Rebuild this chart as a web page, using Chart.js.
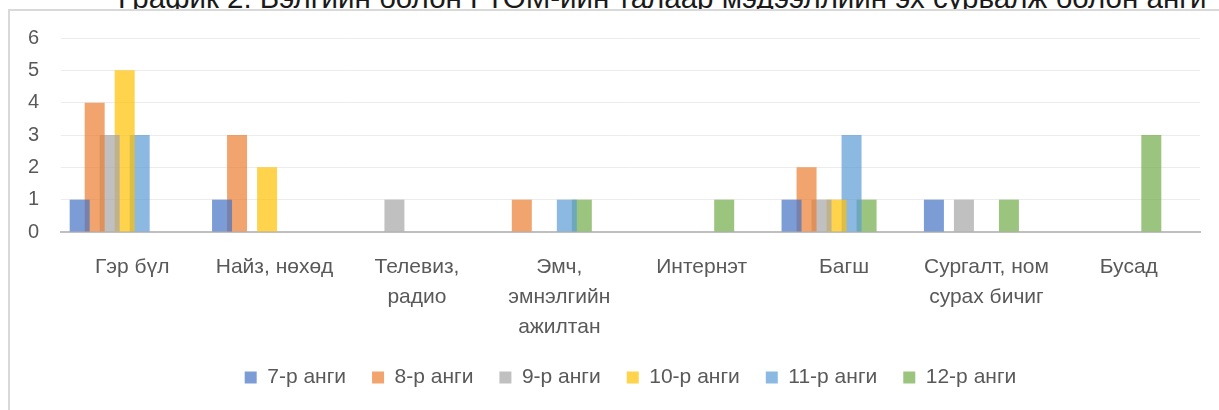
<!DOCTYPE html>
<html>
<head>
<meta charset="utf-8">
<script src="https://cdn.jsdelivr.net/npm/chart.js@4/dist/chart.umd.min.js"></script>
<style>
  body { margin: 0; background: #fff; width: 1219px; height: 410px; overflow: hidden; position: relative; }
  #frame { position: absolute; left: 8px; top: 9px; width: 1211px; height: 401px;
           border-left: 2px solid #d9d9d9; border-top: 2px solid #d9d9d9; box-sizing: border-box; }
  #title { position: absolute; left: 0; top: 0; width: 1219px; height: 9px; overflow: hidden; }
  #title span { position: absolute; left: 118px; top: -17px; font-size: 29.5px; line-height: 30px;
                font-family: 'Liberation Sans', Arial, sans-serif; color: #1a1a1a; white-space: nowrap; }
  canvas { position: absolute; left: 0; top: 0; }
</style>
</head>
<body>
<div id="title"><span>График 2. Бэлгийн болон ГТОМ-ийн талаар мэдээллийн эх сурвалж болон анги</span></div>
<div id="frame"></div>
<canvas id="chart" width="1219" height="410"></canvas>
<script>
// categories (wrapped the way the reference wraps them)
var categories = [
    ["Гэр бүл"],
    ["Найз, нөхөд"],
    ["Телевиз,", "радио"],
    ["Эмч,", "эмнэлгийн", "ажилтан"],
    ["Интернэт"],
    ["Багш"],
    ["Сургалт, ном", "сурах бичиг"],
    ["Бусад"]
]
var seriesNames = ["7-р анги", "8-р анги", "9-р анги", "10-р анги", "11-р анги", "12-р анги"]
var grade7  = [1, 1, 0, 0, 0, 1, 1, 0]
var grade8  = [4, 3, 0, 1, 0, 2, 0, 0]
var grade9  = [3, 0, 1, 0, 0, 1, 1, 0]
var grade10 = [5, 2, 0, 0, 0, 1, 0, 0]
var grade11 = [3, 0, 0, 1, 0, 3, 0, 0]
var grade12 = [0, 0, 0, 1, 1, 1, 1, 3]
var yTicks = [0, 1, 2, 3, 4, 5, 6]

var seriesColors = [
    "rgba(68, 114, 196, 0.7)",
    "rgba(237, 125, 49, 0.7)",
    "rgba(165, 165, 165, 0.7)",
    "rgba(255, 192, 0, 0.7)",
    "rgba(91, 155, 213, 0.7)",
    "rgba(112, 173, 71, 0.7)"
]
var allSeries = [grade7, grade8, grade9, grade10, grade11, grade12]

var textFont = "'Liberation Sans', sans-serif"

var datasets = allSeries.map(function(values, i){
    return {
        label: seriesNames[i],
        data: values,
        backgroundColor: seriesColors[i],
        borderWidth: 0
    }
})
// two empty slots so the group sits left of the label, like in Excel
datasets.push({ label: "", data: [], backgroundColor: "transparent" })
datasets.push({ label: "", data: [], backgroundColor: "transparent" })

var ctx = document.getElementById("chart").getContext("2d")
var chart = new Chart(ctx, {
    type: "bar",
    data: {
        labels: categories,
        datasets: datasets
    },
    options: {
        responsive: false,
        animation: false,
        events: [],
        categoryPercentage: 0.843,
        barPercentage: 1.333,
        layout: {
            padding: { left: 0, right: 19, top: 38, bottom: 12 }
        },
        scales: {
            x: {
                grid: { display: false },
                border: { color: "#bfbfbf", width: 2 },
                ticks: {
                    color: "#595959",
                    font: { family: textFont, size: 21, lineHeight: 1.43 },
                    padding: 12,
                    maxRotation: 0,
                    autoSkip: false
                },
                afterFit: function(scale){ scale.height = 109 }
            },
            y: {
                min: yTicks[0],
                max: yTicks[yTicks.length - 1],
                border: { display: false },
                grid: { color: "#ececec", drawTicks: false },
                ticks: {
                    stepSize: 1,
                    color: "#595959",
                    font: { family: textFont, size: 20 },
                    padding: 22
                },
                afterFit: function(scale){ scale.width = 61 }
            }
        },
        plugins: {
            title: { display: false },
            tooltip: { enabled: false },
            legend: {
                position: "bottom",
                fullSize: false,
                labels: {
                    boxWidth: 12,
                    boxHeight: 12,
                    padding: 26,
                    color: "#595959",
                    font: { family: textFont, size: 21 },
                    filter: function(item){ return item.text != "" }
                }
            }
        }
    }
})
</script>
</body>
</html>
